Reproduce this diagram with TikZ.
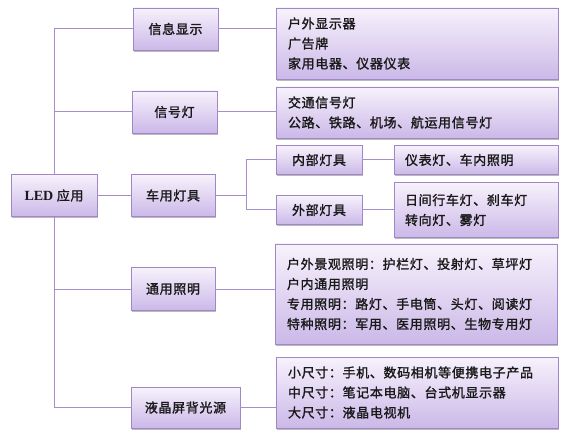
\documentclass[tikz,border=0pt]{standalone}
\usepackage{fontspec}
\setmainfont{Liberation Serif}
\newfontfamily\cjk{Noto Sans CJK SC}[LetterSpace=5, BoldFont={Noto Sans CJK SC}, BoldFeatures={FakeBold=1.5}]
\usetikzlibrary{shadows,calc}
\definecolor{boxtop}{RGB}{247,242,252}
\definecolor{boxbot}{RGB}{203,184,232}
\definecolor{boxline}{RGB}{160,136,200}
\definecolor{conn}{RGB}{166,142,204}
\tikzset{
  bx/.style={draw=boxline, line width=0.8pt, top color=boxtop, bottom color=boxbot,
    drop shadow={shadow xshift=0.8pt, shadow yshift=-1.8pt, opacity=0.45, fill=black!60},
    inner sep=0pt, font=\cjk\bfseries\fontsize{13}{20}\selectfont, text=black!90},
  cbx/.style={bx, align=center},
  lbx/.style={bx, align=left, text width=#1},
  cn/.style={draw=conn, line width=1pt},
}
\begin{document}
\begin{tikzpicture}[x=1pt,y=1pt]
\useasboundingbox (0,0) rectangle (564,-435);
% left column
\node[cbx, minimum width=86, minimum height=42] (led) at (54,-195.5) {{\rmfamily\bfseries\fontsize{14}{20}\selectfont LED} 应用};
\node[cbx, minimum width=85, minimum height=42] (info) at (175.5,-29) {信息显示};
\node[cbx, minimum width=85, minimum height=42] (sig) at (174.5,-112) {信号灯};
\node[cbx, minimum width=84, minimum height=42] (car) at (173,-195.5) {车用灯具};
\node[cbx, minimum width=84, minimum height=43] (gen) at (173,-289) {通用照明};
\node[cbx, minimum width=109, minimum height=41] (lcd) at (185.5,-407.5) {液晶屏背光源};
% right column
\node[lbx=258, minimum width=282, minimum height=71] (r1) at (417,-43.5) {户外显示器\\广告牌\\家用电器、仪器仪表};
\node[lbx=258, minimum width=282, minimum height=51] (r2) at (417,-112.5) {交通信号灯\\公路、铁路、机场、航运用信号灯};
\node[cbx, minimum width=86, minimum height=29] (inner) at (319,-160) {内部灯具};
\node[lbx=142, minimum width=164, minimum height=29] (innerR) at (476,-160) {仪表灯、车内照明};
\node[cbx, minimum width=86, minimum height=29] (outer) at (319,-210) {外部灯具};
\node[lbx=142, minimum width=164, minimum height=55] (outerR) at (476,-210) {日间行车灯、刹车灯\\转向灯、雾灯};
\node[lbx=258, minimum width=282, minimum height=100] (r3) at (416,-294) {户外景观照明：护栏灯、投射灯、草坪灯\\户内通用照明\\专用照明：路灯、手电筒、头灯、阅读灯\\特种照明：军用、医用照明、生物专用灯};
\node[lbx=258, minimum width=282, minimum height=71] (r4) at (417,-392.5) {小尺寸：手机、数码相机等便携电子产品\\中尺寸：笔记本电脑、台式机显示器\\大尺寸：液晶电视机};
% connectors
\draw[cn] (led.north) |- (info.west);
\draw[cn] (led.north |- sig.west) -- (sig.west);
\draw[cn] (led.south) |- (lcd.west);
\draw[cn] (led.south |- gen.west) -- (gen.west);
\draw[cn] (led.east) -- (car.west);
\draw[cn] (info.east) -- (info.east -| r1.west);
\draw[cn] (sig.east) -- (sig.east -| r2.west);
\draw[cn] (gen.east) -- (gen.east -| r3.west);
\draw[cn] (lcd.east) -- (lcd.east -| r4.west);
\coordinate (cj) at ($(car.east)+(31,0)$);
\draw[cn] (car.east) -- (cj);
\draw[cn] (cj) |- (inner.west);
\draw[cn] (cj) |- (outer.west);
\draw[cn] (inner.east) -- (innerR.west);
\draw[cn] (outer.east) -- (outerR.west);
\end{tikzpicture}
\end{document}
